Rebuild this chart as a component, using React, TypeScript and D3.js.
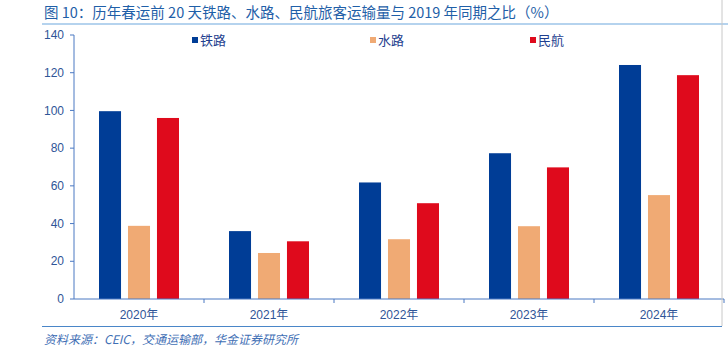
import React from "react";
import * as d3 from "d3";

const categories = ["2020年", "2021年", "2022年", "2023年", "2024年"];
const seriesNames = ["铁路", "水路", "民航"];
const railway = [99.6, 36.0, 61.8, 77.3, 124.1];
const waterway = [38.8, 24.4, 31.7, 38.6, 55.1];
const aviation = [96.0, 30.6, 50.8, 69.8, 118.7];
const yTicks = [0, 20, 40, 60, 80, 100, 120, 140];
const colors = ["#003d96", "#f0aa74", "#df0a1c"];

const W = 728;
const H = 359;

export default function App() {
  const series = [railway, waterway, aviation];
  const x0 = 74, x1 = 724, yTop = 35, yBot = 299;
  const x = d3.scaleBand<string>().domain(categories).range([x0, x1]).paddingInner(0).paddingOuter(0);
  const inner = d3.scaleBand<string>().domain(seriesNames).range([0, 80]).paddingInner(0.24);
  const offset = (x.bandwidth() - 80) / 2;
  const y = d3.scaleLinear().domain([0, 140]).range([yBot, yTop]);
  const axisColor = "#4a78c2";
  const textColor = "#2f5597";
  const font = "'Liberation Sans', Arial, 'Noto Sans CJK SC', sans-serif";
  const legendX = [192, 370, 530];
  return (
    <svg width={W} height={H} style={{ position: "absolute", left: 0, top: 0, background: "#fff" }} fontFamily={font}>
      <text x={44} y={18} fontSize={14.5} fill="#1f5fa8" fontFamily="'Noto Sans CJK SC', sans-serif">
        图 10：历年春运前 20 天铁路、水路、民航旅客运输量与 2019 年同期之比（%）
      </text>
      <line x1={42} x2={728} y1={24} y2={24} stroke="#9cc5e8" strokeWidth={1.5} />
      {/* y axis */}
      <line x1={x0} x2={x0} y1={yTop} y2={yBot} stroke={axisColor} strokeWidth={1} />
      {yTicks.map((t) => (
        <g key={t}>
          <line x1={x0 - 4} x2={x0} y1={y(t)} y2={y(t)} stroke={axisColor} />
          <text x={64} y={y(t)} dy="0.35em" textAnchor="end" fontSize={12} fill={textColor}>
            {t}
          </text>
        </g>
      ))}
      {/* bars */}
      {categories.map((c, i) => (
        <g key={c}>
          {series.map((s, j) => (
            <rect
              key={j}
              x={(x(c) as number) + offset + (inner(seriesNames[j]) as number)}
              y={y(s[i])}
              width={inner.bandwidth()}
              height={yBot - y(s[i])}
              fill={colors[j]}
            />
          ))}
        </g>
      ))}
      {/* x axis */}
      <line x1={x0} x2={x1} y1={yBot} y2={yBot} stroke={axisColor} strokeWidth={1} />
      {categories.map((c) => (
        <line key={"t" + c} x1={(x(c) as number) + x.bandwidth()} x2={(x(c) as number) + x.bandwidth()} y1={yBot} y2={yBot + 4} stroke={axisColor} />
      ))}
      {categories.map((c) => (
        <text key={"l" + c} x={(x(c) as number) + x.bandwidth() / 2} y={319} textAnchor="middle" fontSize={12} fill={textColor}>
          {c}
        </text>
      ))}
      {/* legend */}
      {seriesNames.map((n, j) => (
        <g key={n}>
          <rect x={legendX[j]} y={37} width={6} height={6} fill={colors[j]} />
          <text x={legendX[j] + 8} y={40} dy="0.38em" fontSize={13} fill="#1f3f8f" fontFamily="'Noto Sans CJK SC', sans-serif">
            {n}
          </text>
        </g>
      ))}
      <line x1={722} x2={722} y1={0} y2={326} stroke="#c8c8c8" strokeWidth={1} />
      <line x1={42} x2={722} y1={326.5} y2={326.5} stroke="#4a86c8" strokeWidth={1.2} />
      <text x={44} y={344} fontSize={12} fontStyle="italic" fill="#3f6fb5" fontFamily="'Noto Sans CJK SC', sans-serif">
        资料来源：CEIC，交通运输部，华金证券研究所
      </text>
    </svg>
  );
}
